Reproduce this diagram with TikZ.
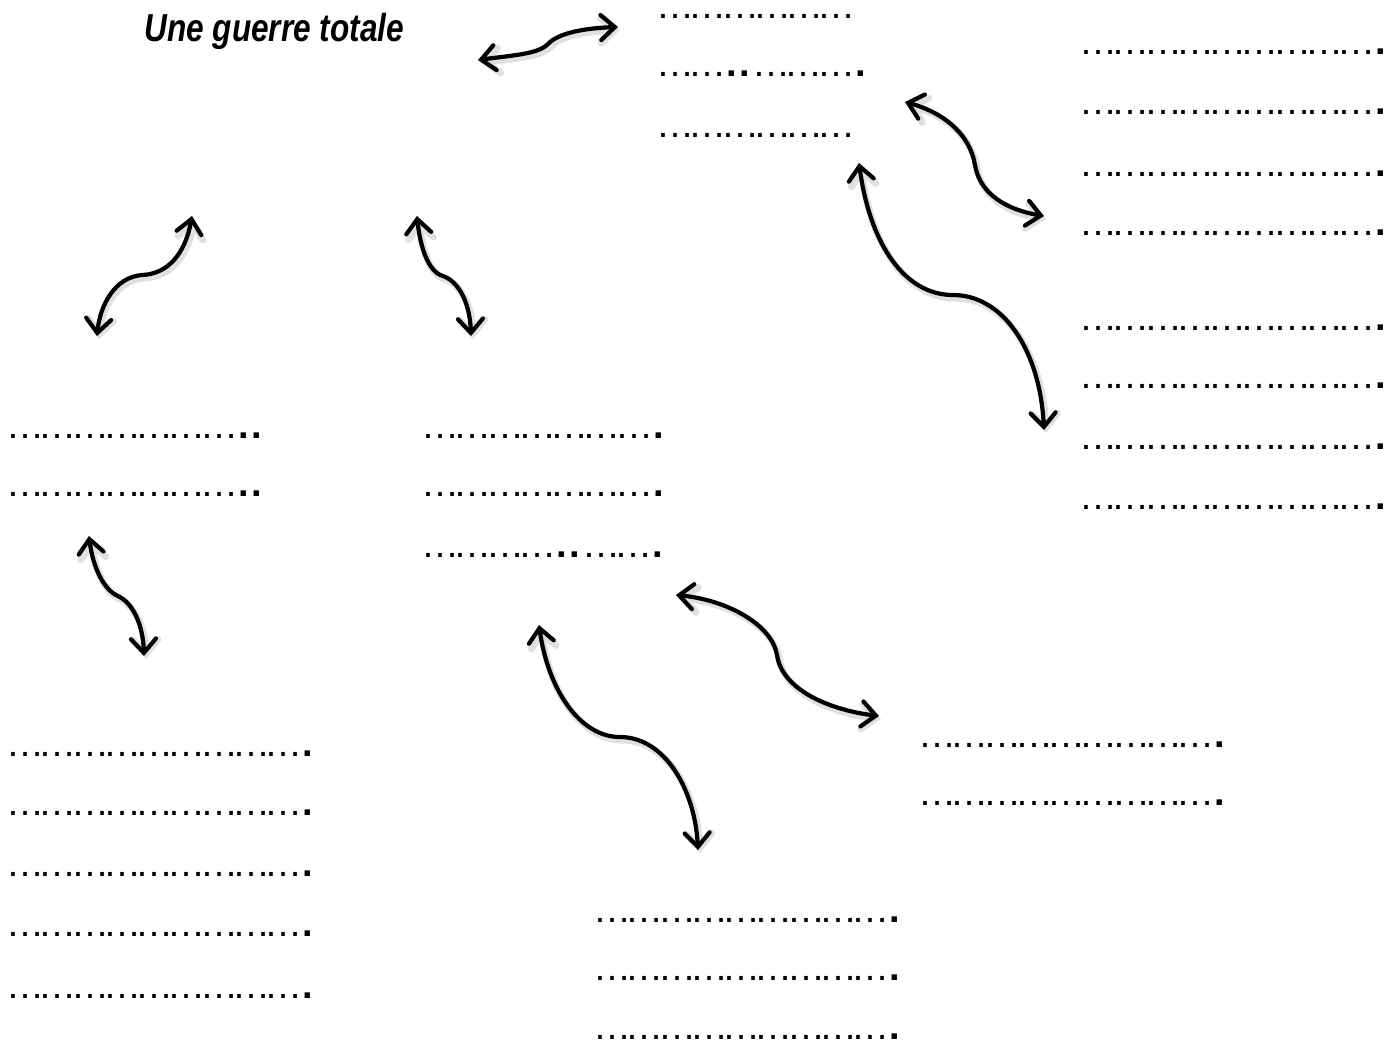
\documentclass[tikz,border=0pt]{standalone}
\usepackage{fontspec}
\usetikzlibrary{arrows.meta}
\setmainfont{Liberation Sans}
\newfontfamily\dotfont[LetterSpace=-15]{Liberation Sans}
\newcommand\ddd{…}
\newcommand\pp{{\bfseries .}\kern1.2pt}
\tikzset{
  dotline/.style={anchor=base west, inner sep=0pt, yshift=-1.5pt, font=\dotfont\fontsize{19}{20}\selectfont},
  titlestyle/.style={anchor=base west, inner sep=0pt, font=\fontsize{19.5}{22}\selectfont\bfseries\itshape},
  linkarrow/.style={line width=2.1pt, line cap=round,
    {Straight Barb[length=7pt,width=12.5pt,line cap=round]}-{Straight Barb[length=7pt,width=12.5pt,line cap=round]},
    preaction={draw=black!12, line width=3.5pt, transform canvas={shift={(1pt,-1.5pt)}}}}
}
\begin{document}
\begin{tikzpicture}[x=0.5pt,y=-0.5pt]
\useasboundingbox (0,0) rectangle (1400,1041);
% title
\node[titlestyle] (title) at (144,41) {\scalebox{0.81}[1]{Une guerre totale}};
% top centre
\node[dotline] (tc1) at (656,15) {\ddd\ddd\ddd\ddd\ddd\ddd};
\node[dotline] (tc2) at (656,73) {\ddd\ddd\pp\pp\ddd\ddd\ddd\pp};
\node[dotline] (tc3) at (656,134) {\ddd\ddd\ddd\ddd\ddd\ddd};
% top right
\node[dotline] (tr1) at (1079,51) {\ddd\ddd\ddd\ddd\ddd\ddd\ddd\ddd\ddd\pp};
\node[dotline] (tr2) at (1079,111) {\ddd\ddd\ddd\ddd\ddd\ddd\ddd\ddd\ddd\pp};
\node[dotline] (tr3) at (1079,173) {\ddd\ddd\ddd\ddd\ddd\ddd\ddd\ddd\ddd\pp};
\node[dotline] (tr4) at (1079,232) {\ddd\ddd\ddd\ddd\ddd\ddd\ddd\ddd\ddd\pp};
\node[dotline] (tr5) at (1079,327) {\ddd\ddd\ddd\ddd\ddd\ddd\ddd\ddd\ddd\pp};
\node[dotline] (tr6) at (1079,385) {\ddd\ddd\ddd\ddd\ddd\ddd\ddd\ddd\ddd\pp};
\node[dotline] (tr7) at (1079,446) {\ddd\ddd\ddd\ddd\ddd\ddd\ddd\ddd\ddd\pp};
\node[dotline] (tr8) at (1079,506) {\ddd\ddd\ddd\ddd\ddd\ddd\ddd\ddd\ddd\pp};
% left
\node[dotline] (l1) at (6,435) {\ddd\ddd\ddd\ddd\ddd\ddd\ddd\pp\pp};
\node[dotline] (l2) at (6,493) {\ddd\ddd\ddd\ddd\ddd\ddd\ddd\pp\pp};
% middle
\node[dotline] (m1) at (421,435) {\ddd\ddd\ddd\ddd\ddd\ddd\ddd\pp};
\node[dotline] (m2) at (421,493) {\ddd\ddd\ddd\ddd\ddd\ddd\ddd\pp};
\node[dotline] (m3) at (421,554) {\ddd\ddd\ddd\ddd\pp\pp\ddd\ddd\pp};
% bottom left
\node[dotline] (bl1) at (6,753) {\ddd\ddd\ddd\ddd\ddd\ddd\ddd\ddd\ddd\pp};
\node[dotline] (bl2) at (6,812) {\ddd\ddd\ddd\ddd\ddd\ddd\ddd\ddd\ddd\pp};
\node[dotline] (bl3) at (6,873) {\ddd\ddd\ddd\ddd\ddd\ddd\ddd\ddd\ddd\pp};
\node[dotline] (bl4) at (6,933) {\ddd\ddd\ddd\ddd\ddd\ddd\ddd\ddd\ddd\pp};
\node[dotline] (bl5) at (6,995) {\ddd\ddd\ddd\ddd\ddd\ddd\ddd\ddd\ddd\pp};
% bottom right
\node[dotline] (br1) at (918,744) {\ddd\ddd\ddd\ddd\ddd\ddd\ddd\ddd\ddd\pp};
\node[dotline] (br2) at (918,802) {\ddd\ddd\ddd\ddd\ddd\ddd\ddd\ddd\ddd\pp};
% bottom centre
\node[dotline] (bc1) at (593,919) {\ddd\ddd\ddd\ddd\ddd\ddd\ddd\ddd\ddd\pp};
\node[dotline] (bc2) at (593,977) {\ddd\ddd\ddd\ddd\ddd\ddd\ddd\ddd\ddd\pp};
\node[dotline] (bc3) at (593,1036) {\ddd\ddd\ddd\ddd\ddd\ddd\ddd\ddd\ddd\pp};
% arrow end points
\coordinate (a1s) at (478,60);  \coordinate (a1e) at (618,27);
\coordinate (a2s) at (905,102); \coordinate (a2e) at (1044,216);
\coordinate (a3s) at (859,163); \coordinate (a3e) at (1044,430);
\coordinate (a4s) at (192,216); \coordinate (a4e) at (97,336);
\coordinate (a5s) at (417,216); \coordinate (a5e) at (471,336);
\coordinate (a6s) at (89,536);  \coordinate (a6e) at (144,656);
\coordinate (a7s) at (676,595); \coordinate (a7e) at (879,716);
\coordinate (a8s) at (539,625); \coordinate (a8e) at (698,850);
% arrows
\draw[linkarrow] (a1s) .. controls (515,55) and (538,54) .. (548,44) .. controls (558,33) and (585,28) .. (a1e);
\draw[linkarrow] (a2s) .. controls (945,113) and (970,135) .. (975,165) .. controls (980,195) and (1008,210) .. (a2e);
\draw[linkarrow] (a3s) .. controls (870,245) and (905,295) .. (953,295) .. controls (1003,295) and (1040,350) .. (a3e);
\draw[linkarrow] (a4s) .. controls (185,255) and (167,274) .. (142,275) .. controls (115,277) and (100,305) .. (a4e);
\draw[linkarrow] (a5s) .. controls (420,246) and (428,272) .. (443,276) .. controls (460,282) and (470,305) .. (a5e);
\draw[linkarrow] (a6s) .. controls (93,568) and (104,590) .. (118,596) .. controls (133,603) and (143,625) .. (a6e);
\draw[linkarrow] (a7s) .. controls (728,600) and (772,625) .. (777,655) .. controls (782,690) and (830,710) .. (a7e);
\draw[linkarrow] (a8s) .. controls (548,690) and (580,737) .. (620,737) .. controls (665,737) and (695,790) .. (a8e);
\end{tikzpicture}
\end{document}
